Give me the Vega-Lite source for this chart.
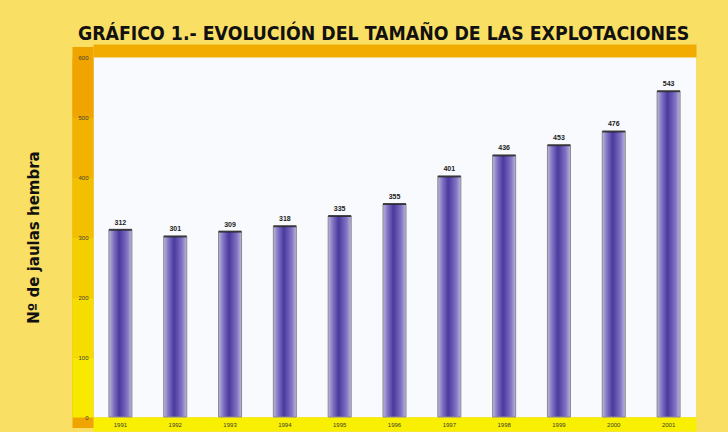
{
  "$schema": "https://vega.github.io/schema/vega-lite/v6.json",
  "autosize": {"type": "none"},
  "width": 603,
  "height": 360,
  "padding": {"left": 93, "top": 57, "right": 32, "bottom": 15},
  "background": "#F9DF64",
  "view": {"fill": "#F8FAFD", "stroke": null},
  "title": {
    "text": "GRÁFICO 1.- EVOLUCIÓN DEL TAMAÑO DE LAS EXPLOTACIONES",
    "font": "DejaVu Sans Condensed",
    "fontSize": 19.3,
    "fontWeight": "bold",
    "color": "#111111",
    "anchor": "start",
    "frame": "group",
    "dx": -15,
    "dy": 12.5,
    "offset": 4,
    "baseline": "alphabetic"
  },
  "data": {
    "values": [
      {"year": "1991", "value": 312},
      {"year": "1992", "value": 301},
      {"year": "1993", "value": 309},
      {"year": "1994", "value": 318},
      {"year": "1995", "value": 335},
      {"year": "1996", "value": 355},
      {"year": "1997", "value": 401},
      {"year": "1998", "value": 436},
      {"year": "1999", "value": 453},
      {"year": "2000", "value": 476},
      {"year": "2001", "value": 543}
    ]
  },
  "layer": [
    {
      "mark": {
        "type": "bar",
        "fill": {
          "gradient": "linear",
          "x1": 0, "y1": 0, "x2": 1, "y2": 0,
          "stops": [
            {"offset": 0, "color": "#BDB7DE"},
            {"offset": 0.2, "color": "#8274C4"},
            {"offset": 0.45, "color": "#4B3A9E"},
            {"offset": 0.55, "color": "#5A48A8"},
            {"offset": 0.8, "color": "#8274C4"},
            {"offset": 1, "color": "#BDB7DE"}
          ]
        },
        "stroke": "#8A8A8A",
        "strokeWidth": 1
      },
      "encoding": {
        "x": {
          "field": "year",
          "type": "ordinal",
          "scale": {"paddingInner": 0.58, "paddingOuter": 0.29},
          "axis": {
            "orient": "bottom",
            "offset": 7,
            "domainWidth": 14,
            "domainColor": "#F8F000",
            "domainCap": "butt",
            "ticks": false,
            "labels": false,
            "title": null
          }
        },
        "y": {
          "field": "value",
          "type": "quantitative",
          "scale": {"domain": [0, 600]},
          "axis": {
            "orient": "left",
            "grid": false,
            "domainWidth": 21,
            "domainColor": "#F0A400",
            "domainCap": "square",
            "offset": 10.5,
            "ticks": false,
            "labels": false,
            "title": null
          }
        }
      }
    },
    {
      "mark": {"type": "tick", "color": "#111111", "thickness": 2, "size": 23},
      "encoding": {
        "x": {
          "field": "year",
          "type": "ordinal",
          "axis": {
            "orient": "top",
            "offset": 6.5,
            "domainWidth": 13,
            "domainColor": "#F2AC00",
            "domainCap": "butt",
            "ticks": false,
            "labels": false,
            "title": null
          }
        },
        "y": {
          "field": "value",
          "type": "quantitative",
          "axis": {
            "orient": "left",
            "zindex": 1,
            "values": [0, 100, 200, 300, 400, 500, 600],
            "grid": false,
            "domain": false,
            "ticks": false,
            "labelPadding": 5,
            "labelFontSize": 6,
            "labelColor": "#3A3A3A",
            "title": "Nº de jaulas hembra",
            "titleX": -60,
            "titleY": 180,
            "titleAngle": 270,
            "titleAlign": "center",
            "titleBaseline": "middle",
            "titleFont": "DejaVu Sans",
            "titleFontSize": 15,
            "titleFontWeight": "bold",
            "titleColor": "#111111"
          }
        }
      }
    },
    {
      "mark": {"type": "text", "baseline": "bottom", "dy": -4, "fontSize": 7, "fontWeight": "bold", "color": "#222222"},
      "encoding": {
        "x": {
          "field": "year",
          "type": "ordinal",
          "axis": {
            "orient": "bottom",
            "zindex": 1,
            "domain": false,
            "ticks": false,
            "labelPadding": 4,
            "labelAngle": 0,
            "labelFontSize": 6,
            "labelColor": "#3A3A3A",
            "title": null
          }
        },
        "y": {
          "field": "value",
          "type": "quantitative",
          "axis": {
            "orient": "left",
            "offset": 0,
            "values": [-50, 50, 150, 250, 350, 450, 550],
            "grid": false,
            "domain": false,
            "labels": false,
            "title": null,
            "ticks": true,
            "tickSize": 21,
            "tickWidth": 60,
            "tickCap": "butt",
            "tickColor": {
              "condition": [
                {"test": "datum.value > 500", "value": "#F0A400"},
                {"test": "datum.value > 400", "value": "#F1B200"},
                {"test": "datum.value > 300", "value": "#F3C000"},
                {"test": "datum.value > 200", "value": "#F4CF00"},
                {"test": "datum.value > 100", "value": "#F5DD00"}
              ],
              "value": "#F7EA00"
            }
          }
        },
        "text": {"field": "value", "type": "quantitative"}
      }
    }
  ],
  "resolve": {"axis": {"x": "independent", "y": "independent"}}
}
